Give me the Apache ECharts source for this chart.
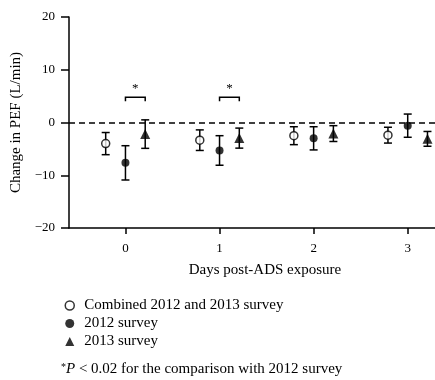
<!DOCTYPE html>
<html><head><meta charset="utf-8">
<script src="https://cdn.jsdelivr.net/npm/echarts@6/dist/echarts.min.js"></script>
<style>html,body{margin:0;padding:0;background:#fff}#c{width:435px;height:380px}</style>
</head><body><div id="c"></div>
<script>
// ---- data ----
const days = [0, 1, 2, 3];
const dayLabels = ['0', '1', '2', '3'];
const seriesNames = ['Combined 2012 and 2013 survey', '2012 survey', '2013 survey'];
const combinedMean = [-4.0, -3.35, -2.5, -2.4];
const combinedErr  = [2.1, 1.95, 1.7, 1.5];
const s2012Mean = [-7.65, -5.3, -3.0, -0.6];
const s2012Err  = [3.25, 2.8, 2.2, 2.2];
const s2013Mean = [-2.2, -2.96, -2.1, -3.1];
const s2013Err  = [2.7, 1.9, 1.5, 1.4];
const sigDays = [0, 1];          // days with * (2013 vs 2012)
const sigLevel = [4.8, 4.8];     // bracket height (L/min)
const yMin = -20, yMax = 20, yStep = 10;
const xAxisTitle = 'Days post-ADS exposure';
const yAxisTitle = 'Change in PEF (L/min)';
const footnote = '{s|*}{i|P} < 0.02 for the comparison with 2012 survey';

// ---- layout ----
const OFF = 0.21;
const FONT = 'Liberation Serif';
const groups = [
  {name: seriesNames[0], mean: combinedMean, err: combinedErr, off: -OFF, symbol: 'circle', size: 8,
   style: {color: '#fff', borderColor: '#000', borderWidth: 1.5}},
  {name: seriesNames[1], mean: s2012Mean, err: s2012Err, off: 0, symbol: 'circle', size: 8,
   style: {color: '#000', borderColor: '#000', borderWidth: 0}},
  {name: seriesNames[2], mean: s2013Mean, err: s2013Err, off: OFF, symbol: 'triangle', size: 10,
   style: {color: '#000', borderColor: '#000', borderWidth: 0}}
];

function errRender(params, api) {
  const x = api.value(0), lo = api.value(1), hi = api.value(2);
  const a = api.coord([x, lo]), b = api.coord([x, hi]);
  const w = 4, st = {stroke: '#000', lineWidth: 1.5, fill: null};
  return {type: 'group', children: [
    {type: 'line', shape: {x1: a[0], y1: a[1], x2: b[0], y2: b[1]}, style: st},
    {type: 'line', shape: {x1: a[0] - w, y1: a[1], x2: a[0] + w, y2: a[1]}, style: st},
    {type: 'line', shape: {x1: b[0] - w, y1: b[1], x2: b[0] + w, y2: b[1]}, style: st}
  ]};
}
function bracketRender(params, api) {
  const p1 = api.coord([api.value(0), api.value(2)]);
  const p2 = api.coord([api.value(1), api.value(2)]);
  const leg = 4;
  return {type: 'group', children: [
    {type: 'polyline', shape: {points: [[p1[0], p1[1] + leg], [p1[0], p1[1]], [p2[0], p2[1]], [p2[0], p2[1] + leg]]},
     style: {stroke: '#000', lineWidth: 1.5, fill: null}},
    {type: 'text', x: (p1[0] + p2[0]) / 2, y: p1[1] - 2,
     style: {text: '*', fill: '#000', font: '13px "' + FONT + '"', align: 'center', verticalAlign: 'bottom'}}
  ]};
}

const series = [];
groups.forEach((g, gi) => {
  series.push({
    type: 'custom', name: 'err' + gi, renderItem: errRender, z: 2,
    encode: {x: 0, y: [1, 2]},
    data: days.map((d, i) => [d + g.off, g.mean[i] - g.err[i], g.mean[i] + g.err[i]])
  });
});
groups.forEach((g, gi) => {
  const s = {
    type: 'scatter', name: g.name, symbol: g.symbol, symbolSize: g.size, z: 5,
    itemStyle: g.style,
    data: days.map((d, i) => [d + g.off, g.mean[i]])
  };
  if (gi === 0) {
    s.markLine = {silent: true, symbol: 'none', label: {show: false},
      lineStyle: {type: [6, 4], color: '#000', width: 1.5}, data: [{yAxis: 0}]};
  }
  series.push(s);
});
series.push({
  type: 'custom', name: 'sig', renderItem: bracketRender, z: 3,
  encode: {x: [0, 1], y: 2},
  data: sigDays.map((d, i) => [d, d + OFF, sigLevel[i]])
});

const chart = echarts.init(document.getElementById('c'), null, {renderer: 'canvas'});
chart.setOption({
  animation: false,
  backgroundColor: '#fff',
  grid: {left: 69, right: 0, top: 17, bottom: 152},
  xAxis: {
    type: 'value', min: -0.6, max: 3.29,
    name: xAxisTitle, nameLocation: 'middle', nameGap: 35,
    nameTextStyle: {fontFamily: FONT, fontSize: 15, color: '#000', padding: [0, 0, 0, 26]},
    axisLine: {onZero: false, lineStyle: {color: '#000', width: 1.5}},
    axisTick: {customValues: days, length: 6, lineStyle: {color: '#000', width: 1.5}},
    axisLabel: {customValues: days, formatter: v => dayLabels[days.indexOf(v)] ?? '',
      fontFamily: FONT, fontSize: 13, color: '#000', margin: 14},
    splitLine: {show: false}
  },
  yAxis: {
    type: 'value', min: yMin, max: yMax, interval: yStep,
    name: yAxisTitle, nameLocation: 'middle', nameGap: 39,
    nameTextStyle: {fontFamily: FONT, fontSize: 15, color: '#000'},
    axisLine: {show: true, onZero: false, lineStyle: {color: '#000', width: 1.5}},
    axisTick: {show: true, length: 8, lineStyle: {color: '#000', width: 1.5}},
    axisLabel: {formatter: v => (v < 0 ? '\u2212' + Math.abs(v) : String(v)),
      fontFamily: FONT, fontSize: 13, color: '#000', margin: 14},
    splitLine: {show: false}
  },
  legend: {
    orient: 'vertical', left: 59.5, top: 293, itemWidth: 9, itemHeight: 9, itemGap: 3,
    selectedMode: false,
    textStyle: {fontFamily: FONT, fontSize: 15, color: '#000', lineHeight: 15, padding: [0, 0, 0, 5]},
    data: groups.map(g => ({name: g.name, icon: g.symbol, itemStyle: g.style}))
  },
  graphic: [{
    type: 'text', left: 61, top: 362,
    style: {
      text: footnote, font: '15px "' + FONT + '"', fill: '#000',
      rich: {
        s: {fontSize: 10, fontFamily: FONT, verticalAlign: 'top', lineHeight: 15, fill: '#000'},
        i: {fontSize: 15, fontFamily: FONT, fontStyle: 'italic', lineHeight: 15, fill: '#000'}
      }
    }
  }],
  series: series
});
</script></body></html>
